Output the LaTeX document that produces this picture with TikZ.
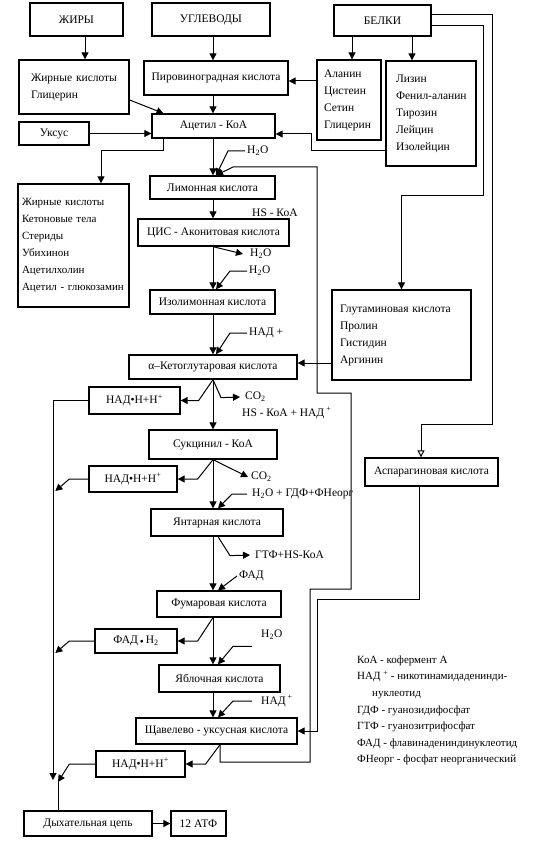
\documentclass[tikz,border=0pt]{standalone}
\usepackage{fontspec}
\setmainfont{Liberation Serif}
\usetikzlibrary{arrows.meta,calc}
\begin{document}
\begin{tikzpicture}[x=1pt,y=-1pt,
  box/.style={draw,line width=1.3pt,inner sep=0pt,align=center,font=\fontsize{11.5}{13}\selectfont},
  lbox/.style={draw,line width=1.3pt,inner ysep=0pt,align=left,font=\fontsize{11.5}{17}\selectfont},
  lab/.style={inner sep=2pt,anchor=west,font=\fontsize{11.5}{13}\selectfont},
  arr/.style={line width=1pt,-{Triangle[length=7pt,width=7pt]}},
  harr/.style={line width=1pt,-{Triangle[open,length=7pt,width=7pt]}},
  ln/.style={line width=1pt}]
\useasboundingbox (0,0) rectangle (533,845);
% guides
\coordinate (ax) at (213,0);
\coordinate (g85) at (85,0);
\coordinate (g101) at (101,0);
\coordinate (g163) at (163.5,0);
\coordinate (g352) at (352,0);
\coordinate (g412) at (412,0);
\coordinate (g311) at (311,0);
\coordinate (g483) at (483,0);
\coordinate (g492) at (492,0);
\coordinate (g421) at (421,0);
\coordinate (g419) at (419,0);
\coordinate (g310) at (310,0);
\coordinate (g317) at (317,0);
\coordinate (g351) at (351,0);
\coordinate (g233) at (233,0);
\coordinate (g58) at (58,0);
\coordinate (h15) at (0,15);
\coordinate (h26) at (0,26);
\coordinate (h81) at (0,81);
\coordinate (h151) at (0,151);
\coordinate (h167) at (0,167);
\coordinate (h195) at (0,195);
\coordinate (h363) at (0,363);
\coordinate (h393) at (0,393);
\coordinate (h424) at (0,424);
\coordinate (h589) at (0,589);
\coordinate (h599) at (0,599);
\coordinate (h762) at (0,762);
\coordinate (mL) at (53,780);
\coordinate (mR) at (58,782);
% boxes
\node[box,minimum width=93,minimum height=33] (zhiry) at (76.5,19.5) {ЖИРЫ};
\node[box,minimum width=118,minimum height=33] (uglevody) at (211,19.5) {УГЛЕВОДЫ};
\node[box,minimum width=97,minimum height=31] (belki) at (382.5,20.5) {БЕЛКИ};
\node[lbox,minimum width=110,minimum height=54,inner xsep=12,text width=86] (zhk) at (74,87) {\mbox{Жирные кислоты}\\\mbox{Глицерин}};
\node[box,minimum width=144,minimum height=34] (piruv) at (216,78) {Пировиноградная кислота};
\node[lbox,minimum width=64,minimum height=80,inner xsep=7,text width=50] (alanin) at (349,100) {\mbox{Аланин}\\\mbox{Цистеин}\\\mbox{Сетин}\\\mbox{Глицерин}};
\node[lbox,minimum width=90,minimum height=105,inner xsep=10,text width=70] (lizin) at (431,113.5) {\mbox{Лизин}\\\mbox{Фенил-аланин}\\\mbox{Тирозин}\\\mbox{Лейцин}\\\mbox{Изолейцин}};
\node[box,minimum width=123,minimum height=24] (acetyl) at (213.5,126) {Ацетил - КоА};
\node[box,minimum width=70,minimum height=23] (uksus) at (54,133.5) {Уксус};
\node[lbox,minimum width=111,minimum height=123,inner xsep=4,text width=103,font=\fontsize{11}{17}\selectfont] (list) at (73.5,245.5) {\mbox{Жирные кислоты}\\\mbox{Кетоновые тела}\\\mbox{Стериды}\\\mbox{Убихинон}\\\mbox{Ацетилхолин}\\\mbox{Ацетил - глюкозамин}};
\node[box,minimum width=125,minimum height=23] (limon) at (212.5,187.5) {Лимонная кислота};
\node[box,minimum width=151,minimum height=27] (cis) at (213.5,232.5) {ЦИС - Аконитовая кислота};
\node[box,minimum width=125,minimum height=24] (izolimon) at (212.5,302) {Изолимонная кислота};
\node[box,minimum width=168,minimum height=24] (akg) at (213,367) {α–Кетоглутаровая кислота};
\node[lbox,minimum width=139,minimum height=90,inner xsep=8,text width=123] (glut) at (401.5,335) {\mbox{Глутаминовая кислота}\\\mbox{Пролин}\\\mbox{Гистидин}\\\mbox{Аргинин}};
\node[box,minimum width=91,minimum height=27] (nad1) at (134.5,400.5) {НАД•Н+Н\textsuperscript{+}};
\node[box,minimum width=128,minimum height=29] (succ) at (213,444.5) {Сукцинил - КоА};
\node[box,minimum width=88,minimum height=26] (nad2) at (133,479) {НАД•Н+Н\textsuperscript{+}};
\node[box,minimum width=133,minimum height=28] (asp) at (431.5,472) {Аспарагиновая кислота};
\node[box,minimum width=132,minimum height=27] (yantar) at (217,522.5) {Янтарная кислота};
\node[box,minimum width=124,minimum height=26] (fumar) at (219,604) {Фумаровая кислота};
\node[box,minimum width=82,minimum height=24] (fad) at (136,641) {ФАД\,\raisebox{-1.5pt}{•}\,Н\textsubscript{2}};
\node[box,minimum width=121,minimum height=27] (yabl) at (219.5,678.5) {Яблочная кислота};
\node[box,minimum width=161,minimum height=26] (shch) at (216.5,731) {Щавелево - уксусная кислота};
\node[box,minimum width=89,minimum height=26] (nad3) at (140.5,764) {НАД•Н+Н\textsuperscript{+}};
\node[box,minimum width=128,minimum height=25] (dyh) at (88,823.5) {Дыхательная цепь};
\node[box,minimum width=55,minimum height=25] (atf) at (198.5,823.5) {12 АТФ};
% labels
\node[lab] (h2o1) at (245,151) {H\textsubscript{2}O};
\node[lab] (hskoa) at (250,213) {HS - КоА};
\node[lab] (h2o2) at (248,254) {H\textsubscript{2}O};
\node[lab] (h2o3) at (247,271) {H\textsubscript{2}O};
\node[lab] (nadp1) at (247,333) {НАД +};
\node[lab] (co2a) at (243,397) {CO\textsubscript{2}};
\node[lab] (hsnad) at (240,413) {HS - КоА + НАД\textsuperscript{ +}};
\node[lab] (co2b) at (249,477) {CO\textsubscript{2}};
\node[lab] (h2ogdf) at (250,494) {H\textsubscript{2}O + ГДФ+ФНеорг};
\node[lab] (gtf) at (253,555) {ГТФ+HS-КоА};
\node[lab] (fadl) at (237,576) {ФАД};
\node[lab] (h2o4) at (259,635) {H\textsubscript{2}O};
\node[lab] (nadp2) at (259,701) {НАД\textsuperscript{ +}};
\node[lab,align=left,font=\fontsize{11}{16.6}\selectfont] (legend) at (355,710.5) {КоА - кофермент А\\НАД \textsuperscript{+} - никотинамидаденинди-\\\hspace*{15pt}нуклеотид\\ГДФ - гуанозидифосфат\\ГТФ - гуанозитрифосфат\\ФАД - флавинадениндинуклеотид\\ФНеорг - фосфат неорганический};
% tips
\coordinate (t1) at ($(limon.north -| ax)+(3,0)$);
% top connectors
\draw[arr] (zhiry.south -| g85) -- (zhk.north -| g85);
\draw[arr] (uglevody.south -| ax) -- (piruv.north -| ax);
\draw[arr] (piruv.south -| ax) -- (acetyl.north -| ax);
\draw[arr] ($(zhk.east)+(0,13)$) -- (acetyl.north -| g163);
\draw[arr] (uksus.east) -- (uksus.east -| acetyl.west);
\draw[arr] (acetyl.south -| g163) -- ++(0,12) -| (list.north -| g101);
\draw[arr] (belki.south -| g352) -- (alanin.north -| g352);
\draw[arr] (belki.south -| g412) -- (lizin.north -| g412);
\draw[arr] (alanin.west |- h81) -- (piruv.east |- h81);
\draw[arr] (lizin.west |- h151) -- (g311 |- h151) |- ($(acetyl.east)+(0,8)$);
\draw[arr] (belki.east |- h26) -| (g483 |- h195) -| (glut.north);
\draw[harr] (belki.east |- h15) -| (g492 |- h424) -| (asp.north -| g421);
\draw[arr] (glut.west |- h363) -- (akg.east |- h363);
% main chain
\draw[arr] (acetyl.south -| ax) -- (limon.north -| ax);
\draw[arr] (limon.south -| ax) -- (cis.north -| ax);
\draw[arr] (cis.south -| ax) -- (izolimon.north -| ax);
\draw[arr] (izolimon.south -| ax) -- (akg.north -| ax);
\draw[arr] (akg.south -| ax) -- (succ.north -| ax);
\draw[arr] (succ.south -| ax) -- (yantar.north -| ax);
\draw[arr] (yantar.south -| ax) -- (fumar.north -| ax);
\draw[arr] (fumar.south -| ax) -- (yabl.north -| ax);
\draw[arr] (yabl.south -| ax) -- (shch.north -| ax);
% side in/out arrows
\draw[arr] (h2o1.west) -- ++(-17,0) -- (t1);
\draw[arr] (cis.south -| ax) -- ($(h2o2.west)+(-5,0)$);
\draw[arr] (h2o3.west) -- ++(-17,0) -- ($(izolimon.north -| ax)+(3,0)$);
\draw[arr] (nadp1.west) -- ++(-17,0) -- ($(akg.north -| ax)+(3,0)$);
\draw[arr] (akg.south -| ax) -- ++(8,18) -- ($(co2a.west)+(-3,0)$);
\draw[arr] (akg.south -| ax) -- ($(nad1.east)+(18,0)$) -- (nad1.east);
\draw[arr] (succ.south -| ax) -- ($(co2b.west)+(-1,0)$);
\draw[arr] (succ.south -| ax) -- ($(nad2.east)+(20,0)$) -- (nad2.east);
\draw[arr] ($(h2ogdf.west)+(-3,0)$) -- ++(-15,0) -- ($(yantar.north -| ax)+(5,0)$);
\draw[arr] ($(yantar.south -| ax)+(5,0)$) -- ++(12,19) -- ($(gtf.west)+(-3,0)$);
\draw[arr] (fadl.west) -- ($(fumar.north -| ax)+(5,0)$);
\draw[arr] (fumar.south -| ax) -- ($(fad.east)+(20,0)$) -- (fad.east);
\draw[arr] ($(yabl.north -| ax)+(39,-18)$) -- ++(-19,0) -- ($(yabl.north -| ax)+(5,0)$);
\draw[arr] ($(nadp2.west)+(-7,0)$) -- ++(-19,0) -- ($(shch.north -| ax)+(5,0)$);
\draw[arr] ($(shch.south -| ax)+(7,0)$) -- ($(nad3.east)+(20,0)$) -- (nad3.east);
% loops
\draw[arr] ($(shch.south -| ax)+(7,0)$) |- (g310 |- h762) |- (g351 |- h589) |- (g317 |- h393) |- (g233 |- h167) -- (t1);
\draw[arr] (asp.south -| g419) |- (g317 |- h599) |- (shch.east);
% left collector
\draw[arr] (nad1.west) -| (mL);
\draw[arr] (nad2.west) -- ++(-19,0) -- ++(-14,12);
\draw[arr] (fad.west) -- ++(-25,0) -- ++(-14,12);
\draw[arr] (nad3.west) -- ++(-26,0) -- (mR);
\draw[ln] (dyh.north -| g58) -- (mR);
\draw[arr] (dyh.east) -- (atf.west);
\end{tikzpicture}
\end{document}
